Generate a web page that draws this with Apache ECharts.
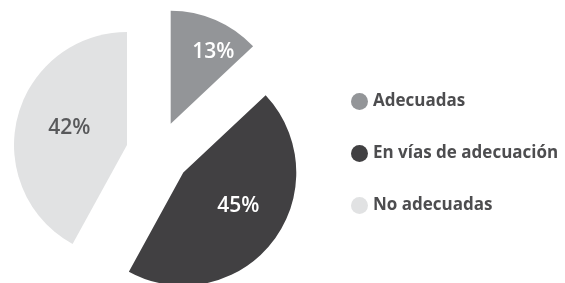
<!DOCTYPE html>
<html>
<head>
<meta charset="utf-8">
<script src="https://cdn.jsdelivr.net/npm/echarts@6/dist/echarts.min.js"></script>
<style>
  html, body { margin: 0; padding: 0; background: #fff; }
  #chart { width: 565px; height: 283px; }
</style>
</head>
<body>
<div id="chart"></div>
<script>
// datos del gráfico
const categories = ['Adecuadas', 'En vías de adecuación', 'No adecuadas']
const values = [13, 45, 42]
const colors = ['#939598', '#414042', '#e1e2e3']
const labelColors = ['#ffffff', '#ffffff', '#58595b']

const chart = echarts.init(document.getElementById('chart'))

const pieData = categories.map((name, i) => ({
    name: name,
    value: values[i],
    selected: true,
    itemStyle: { color: colors[i] },
    label: { color: labelColors[i] }
}))

// pequeños ajustes de posición de las etiquetas
const labelShift = [[19, -17], [8, -3], [0, -2]]

chart.setOption({
    animation: false,
    legend: {
        orient: 'vertical',
        left: 346,
        top: 88,
        icon: 'circle',
        itemWidth: 17,
        itemHeight: 17,
        itemGap: 35,
        selectedMode: false,
        data: categories,
        textStyle: {
            color: '#4d4d4f',
            fontSize: 17,
            fontWeight: 'bold',
            fontFamily: 'Open Sans'
        }
    },
    series: [{
        type: 'pie',
        center: [158, 153],
        radius: 113,
        startAngle: 90,
        clockwise: true,
        selectedMode: 'multiple',
        selectedOffset: 32,
        silent: true,
        label: {
            show: true,
            position: 'inside',
            formatter: '{c}%',
            fontSize: 21,
            fontWeight: 600,
            fontFamily: 'Open Sans'
        },
        labelLine: { show: false },
        labelLayout: function (params) {
            const s = labelShift[params.dataIndex]
            return { dx: s[0], dy: s[1] }
        },
        data: pieData
    }]
})
</script>
</body>
</html>
